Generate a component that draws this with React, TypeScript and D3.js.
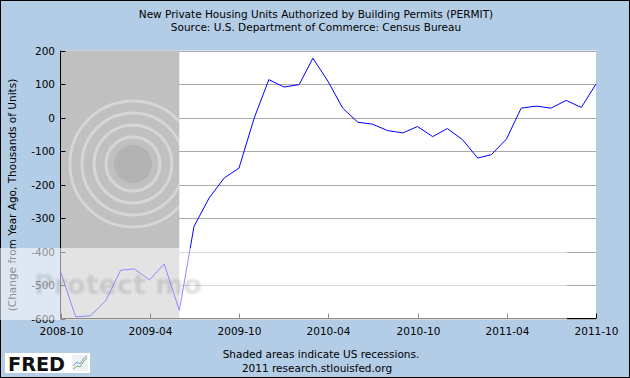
import React from "react";
import * as d3 from "d3";

const startMonth = "2008-10";
const values = [
  -460, -595, -592, -548, -456, -452, -485, -437, -576,
  -325, -240, -180, -151, -2, 113, 91, 98, 177, 108, 28,
  -14, -20, -39, -46, -27, -57, -33, -66, -121, -111, -64,
  28, 34, 28, 51, 30, 100,
];
const xTickLabels = ["2008-10", "2009-04", "2009-10", "2010-04", "2010-10", "2011-04", "2011-10"];
const yTicks = [200, 100, 0, -100, -200, -300, -400, -500, -600];
const recession = ["2008-10", "2009-06"];
const titleLines = [
  "New Private Housing Units Authorized by Building Permits (PERMIT)",
  "Source: U.S. Department of Commerce: Census Bureau",
];
const yTitle = "(Change from Year Ago, Thousands of Units)";
const footLines = ["Shaded areas indicate US recessions.", "2011 research.stlouisfed.org"];
const watermark = "Protect mo";

const W = 630, H = 378;
const L = 60.5, R = 596, T = 50.5, B = 318.5;
const parse = d3.timeParse("%Y-%m");
const FONT = "DejaVu Sans, Verdana, sans-serif";

export default function App() {
  const start = parse(startMonth)!;
  const dates = values.map((_, i) => d3.timeMonth.offset(start, i));
  const x = d3.scaleTime().domain([parse("2008-10")!, parse("2011-10")!]).range([L, R]);
  const y = d3.scaleLinear().domain([-600, 200]).range([B, T]);
  const line = d3
    .line<number>()
    .x((_, i) => x(dates[i]))
    .y((d) => y(d))(values)!;
  const rx0 = x(parse(recession[0])!);
  const rx1 = x(parse(recession[1])!);

  return (
    <svg width={W} height={H} style={{ display: "block", position: "absolute", left: 0, top: 0 }} fontFamily={FONT}>
      <defs>
        <clipPath id="recClip">
          <rect x={rx0} y={T} width={rx1 - rx0} height={B - T} />
        </clipPath>
        <filter id="soft">
          <feGaussianBlur stdDeviation={0.8} />
        </filter>
      </defs>
      <rect x={0.5} y={0.5} width={W - 1} height={H - 1} fill="#b4cde6" stroke="#000" />
      {titleLines.map((t, i) => (
        <text key={i} x={316} y={18 + i * 13} textAnchor="middle" fontSize={10.5} fill="#000">
          {t}
        </text>
      ))}
      <rect x={L} y={T} width={R - L} height={B - T} fill="#fff" />
      {yTicks.map((v) => (
        <line key={v} x1={L} x2={R} y1={Math.round(y(v)) + 0.5} y2={Math.round(y(v)) + 0.5} stroke="#aaa" />
      ))}
      <rect x={rx0} y={T} width={rx1 - rx0} height={B - T} fill="#c0c0c0" />
      <g clipPath="url(#recClip)">
        <circle cx={133} cy={164} r={19} fill="#b3b3b3" />
        {[27, 39, 51, 63].map((r) => (
          <circle key={r} cx={133} cy={164} r={r} fill="none" stroke="#fff" strokeWidth={3} opacity={0.35} />
        ))}
      </g>
      <path d={line} fill="none" stroke="#0000ff" strokeWidth={1} />
      <line x1={L} x2={L} y1={T} y2={B} stroke="#000" />
      <line x1={L} x2={R} y1={B} y2={B} stroke="#000" />
      {yTicks.map((v) => (
        <g key={v}>
          <line x1={L} x2={L + 5} y1={Math.round(y(v)) + 0.5} y2={Math.round(y(v)) + 0.5} stroke="#000" />
          <text x={55} y={y(v) + 4} textAnchor="end" fontSize={10.5} fill="#000">
            {v}
          </text>
        </g>
      ))}
      {xTickLabels.map((t) => {
        const xx = Math.round(x(parse(t)!)) + 0.5;
        return (
          <g key={t}>
            <line x1={xx} x2={xx} y1={B} y2={B - 5} stroke="#000" />
            <text x={xx} y={335} textAnchor="middle" fontSize={10.5} fill="#000">
              {t}
            </text>
          </g>
        );
      })}
      <text transform={`translate(16,195) rotate(-90)`} textAnchor="middle" fontSize={10.5} fill="#000">
        {yTitle}
      </text>
      {footLines.map((t, i) => (
        <text key={i} x={i === 0 ? 321 : 317} y={358 + i * 14} textAnchor="middle" fontSize={10.5} fill="#000">
          {t}
        </text>
      ))}
      <g>
        <rect x={5} y={353} width={85} height={20} fill="#fff" />
        <text x={8} y={371} fontSize={20} fontWeight="bold" fill="#111" fontFamily="DejaVu Sans, sans-serif" textLength={57} lengthAdjust="spacingAndGlyphs">
          FRED
        </text>
        <rect x={72} y={355} width={16} height={16} fill="#eef2f6" />
        <polyline points="73,369 77,366 80,367 84,361 87,358" fill="none" stroke="#7fae5a" strokeWidth={1} />
        <polyline points="73,366 77,362 80,364 84,358 87,356" fill="none" stroke="#7d9bc2" strokeWidth={1} />
      </g>
      <rect x={0} y={248} width={567} height={72} fill="#fff" opacity={0.55} />
      <text x={34} y={294} fontSize={27} fontWeight="bold" fill="#666" opacity={0.2} filter="url(#soft)">
        {watermark}
      </text>
    </svg>
  );
}
